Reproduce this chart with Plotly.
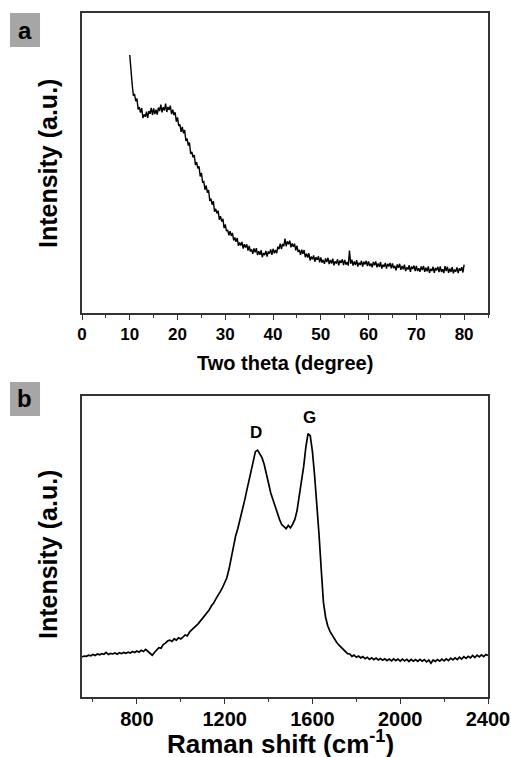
import plotly.graph_objects as go

# ---- Data (a): XRD, two theta from 10 to 80 in 0.25 degree steps ----
xrd_start = 10.0
xrd_step = 0.25
xrd_intensity = [
    86.0, 79.6, 76.3, 72.4, 73.0, 70.6, 71.5, 67.9, 68.6, 66.8,
    68.3, 65.0, 66.2, 65.4, 67.1, 65.0, 67.3, 66.4, 68.4, 66.0,
    68.2, 66.3, 67.8, 66.1, 68.5, 67.3, 69.5, 66.9, 68.6, 67.5,
    69.8, 67.0, 68.7, 67.7, 69.1, 66.3, 67.8, 66.0, 66.9, 63.8,
    65.2, 62.4, 62.8, 60.4, 62.0, 59.9, 61.0, 57.4, 58.1, 55.8,
    56.8, 53.0, 53.7, 51.9, 52.6, 49.3, 50.3, 48.2, 48.9, 45.5,
    46.7, 43.6, 43.8, 41.1, 42.5, 40.1, 41.0, 37.4, 38.1, 36.1,
    37.3, 33.8, 34.7, 33.2, 34.1, 31.1, 32.3, 30.5, 31.4, 28.3,
    29.5, 27.3, 27.7, 25.9, 27.3, 25.7, 26.7, 24.2, 25.2, 23.7,
    25.0, 22.4, 23.5, 22.5, 23.7, 21.5, 22.9, 21.8, 22.9, 20.8,
    22.4, 20.5, 21.2, 19.7, 21.5, 20.2, 21.6, 19.3, 20.6, 19.4,
    20.9, 18.6, 20.0, 19.3, 20.7, 18.8, 20.5, 19.8, 21.2, 19.4,
    21.4, 19.9, 21.0, 19.9, 22.1, 21.3, 23.1, 21.3, 23.0, 22.3,
    24.8, 22.2, 23.9, 22.9, 24.1, 21.9, 23.2, 22.1, 23.1, 20.9,
    22.4, 20.4, 21.0, 19.4, 21.1, 19.7, 21.0, 18.6, 19.8, 18.5,
    19.9, 17.5, 18.8, 17.9, 19.2, 17.1, 18.6, 17.7, 18.9, 16.9,
    18.5, 16.8, 17.7, 16.4, 18.2, 17.0, 18.4, 16.3, 17.7, 16.5,
    18.1, 15.9, 17.2, 16.5, 17.9, 15.9, 17.5, 16.7, 17.9, 16.0,
    17.7, 16.1, 17.0, 15.8, 20.8, 16.4, 17.8, 15.8, 17.2, 16.0,
    17.6, 15.5, 16.8, 16.0, 17.4, 15.5, 17.1, 16.2, 17.4, 15.6,
    17.2, 15.6, 16.5, 15.2, 17.0, 15.9, 17.2, 15.2, 16.5, 15.4,
    17.0, 14.8, 16.1, 15.4, 16.7, 14.8, 16.4, 15.5, 16.7, 14.9,
    16.5, 14.9, 15.7, 14.2, 16.2, 15.1, 16.4, 14.4, 15.7, 14.6,
    16.1, 14.0, 15.2, 14.5, 15.9, 13.7, 15.5, 14.7, 15.8, 14.0,
    15.7, 14.0, 14.9, 13.7, 15.5, 14.3, 15.7, 13.7, 15.1, 13.9,
    15.5, 13.4, 14.7, 14.0, 15.4, 13.4, 15.0, 14.2, 15.4, 13.6,
    15.5, 13.7, 14.6, 13.3, 15.6, 14.0, 15.4, 13.4, 14.8, 13.7,
    15.3, 13.2, 14.5, 13.8, 15.2, 13.3, 14.9, 14.1, 15.3, 13.5,
    16.1,
]
xrd_theta = [xrd_start + xrd_step * i for i in range(len(xrd_intensity))]

# ---- Data (b): Raman, shift 550..2400 step 10 ----
raman_shift = list(range(550, 2410, 10))
raman_intensity = [
    13.3, 13.6, 13.5, 13.9, 13.7, 14.1, 13.8, 14.3, 14.0, 14.4,
    14.2, 14.8, 14.1, 14.5, 14.3, 14.6, 14.2, 14.7, 14.4, 14.8,
    14.5, 14.9, 14.6, 15.1, 14.8, 15.3, 14.9, 15.5, 15.1, 15.8,
    15.2, 14.6, 13.9, 14.8, 15.6, 16.4, 16.2, 17.4, 17.9, 18.6,
    18.9, 18.5, 19.3, 18.9, 19.7, 19.3, 19.9, 20.6, 20.3, 21.6,
    22.3, 22.9, 23.8, 24.4, 25.3, 26.2, 27.1, 28.2, 29.0, 30.3,
    31.2, 32.6, 33.6, 35.0, 36.3, 37.8, 39.6, 42.5, 46.0, 50.3,
    53.5, 56.0, 58.8, 62.0, 65.0, 68.3, 71.6, 75.0, 78.8, 81.5,
    82.0, 80.6, 79.5, 77.3, 74.5, 71.0, 67.8, 65.6, 63.0, 60.6,
    59.0, 57.3, 56.6, 55.9, 57.0, 56.2, 57.4, 59.0, 62.0, 66.5,
    71.5, 76.5, 83.0, 87.5, 86.8, 81.5, 73.5, 65.0, 54.0, 42.5,
    31.5, 26.5, 23.6, 21.8, 20.5, 19.1, 18.2, 17.3, 16.5, 15.8,
    15.1, 14.4, 14.3, 13.5, 13.9, 13.2, 13.6, 13.0, 13.4, 12.7,
    13.2, 12.5, 13.0, 12.4, 12.9, 12.3, 12.8, 12.2, 12.7, 12.1,
    12.6, 12.0, 12.7, 12.1, 12.6, 11.9, 12.6, 12.0, 12.5, 11.8,
    12.5, 11.9, 12.4, 11.8, 12.5, 11.9, 12.4, 11.7, 12.3, 11.2,
    12.3, 11.8, 12.4, 11.9, 12.6, 12.0, 12.7, 12.1, 12.9, 12.3,
    13.0, 12.4, 13.2, 12.6, 13.4, 12.8, 13.5, 13.0, 13.8, 13.1,
    13.9, 13.3, 14.0, 13.4, 14.1, 13.8,
]
assert len(raman_shift) == len(raman_intensity), (len(raman_shift), len(raman_intensity))

peak_labels = ["D", "G"]
peak_pos = [1345, 1585]
peak_label_y = [88, 93]

FONT = "Liberation Sans"

fig = go.Figure()
fig.add_trace(go.Scatter(x=xrd_theta, y=xrd_intensity, mode="lines", xaxis="x", yaxis="y",
                         line=dict(color="black", width=1.4), showlegend=False))
fig.add_trace(go.Scatter(x=raman_shift, y=raman_intensity, mode="lines", xaxis="x2", yaxis="y2",
                         line=dict(color="black", width=1.7), showlegend=False))

axis_common = dict(showline=True, linecolor="#333333", linewidth=1.5, mirror=True,
                   showgrid=False, zeroline=False, automargin=False)

fig.update_layout(
    width=511, height=757,
    margin=dict(l=82, r=23, t=13, b=60, autoexpand=False),
    paper_bgcolor="white", plot_bgcolor="white",
    xaxis=dict(domain=[0, 1], range=[0, 85], anchor="y", tickmode="linear", tick0=0, dtick=10,
               ticks="outside", ticklen=5, tickwidth=1.3, tickcolor="#333333",
               minor=dict(ticks="outside", ticklen=3, dtick=5, tick0=0, tickcolor="#333333"),
               tickfont=dict(family=FONT, size=17, color="black", weight="bold"), **axis_common),
    yaxis=dict(domain=[0.5614, 1], range=[0, 100], anchor="x", showticklabels=False, ticks="",
               **axis_common),
    xaxis2=dict(domain=[0, 1], range=[550, 2400], anchor="y2", tickmode="linear", tick0=0, dtick=400,
                ticks="outside", ticklen=5, tickwidth=1.3, tickcolor="#333333",
                minor=dict(ticks="outside", ticklen=3, dtick=200, tick0=0, tickcolor="#333333"),
                ticklabelstandoff=-2,
                tickfont=dict(family=FONT, size=20, color="black", weight="bold"), **axis_common),
    yaxis2=dict(domain=[0, 0.4401], range=[0, 100], anchor="x2", showticklabels=False, ticks="",
                **axis_common),
)

ann = []
ann.append(dict(text="Two theta (degree)", x=0.5, y=0.4883, xref="paper", yref="paper",
                showarrow=False, font=dict(family=FONT, size=20, color="black", weight="bold"),
                xanchor="center", yanchor="middle"))
ann.append(dict(text="Raman shift (cm<sup>-1</sup>)", x=0.49, y=-0.067, xref="paper", yref="paper",
                showarrow=False, font=dict(family=FONT, size=26, color="black", weight="bold"),
                xanchor="center", yanchor="middle"))
for yc in (0.7792, 0.2076):
    ann.append(dict(text="Intensity (a.u.)", x=-0.0837, y=yc, xref="paper", yref="paper",
                    textangle=-90, showarrow=False,
                    font=dict(family=FONT, size=25, color="black", weight="bold"),
                    xanchor="center", yanchor="middle"))
for lab, px, py in zip(peak_labels, peak_pos, peak_label_y):
    ann.append(dict(text=lab, x=px, y=py, xref="x2", yref="y2", showarrow=False,
                    font=dict(family=FONT, size=17, color="black", weight="bold"),
                    xanchor="center", yanchor="middle"))
ann.append(dict(text="a", x=-0.1404, y=0.9751, xref="paper", yref="paper", showarrow=False,
                font=dict(family=FONT, size=24, color="black", weight="bold"),
                xanchor="center", yanchor="middle"))
ann.append(dict(text="b", x=-0.1404, y=0.4357, xref="paper", yref="paper", showarrow=False,
                font=dict(family=FONT, size=24, color="black", weight="bold"),
                xanchor="center", yanchor="middle"))
fig.update_layout(annotations=ann)

fig.add_shape(type="rect", xref="paper", yref="paper", x0=-0.1773, x1=-0.1034, y0=0.9503, y1=1.0,
              fillcolor="#a6a6a6", line=dict(width=0), layer="below")
fig.add_shape(type="rect", xref="paper", yref="paper", x0=-0.1773, x1=-0.1034, y0=0.4108, y1=0.4605,
              fillcolor="#a6a6a6", line=dict(width=0), layer="below")

fig.write_html("out.html", config={"displayModeBar": False},
               post_script="document.body.style.margin='0';document.body.style.overflow='hidden';")
